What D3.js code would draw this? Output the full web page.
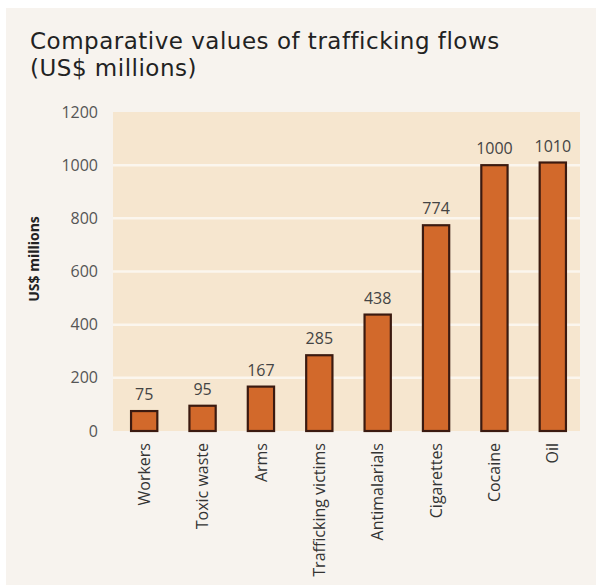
<!DOCTYPE html>
<html><head><meta charset="utf-8">
<script src="https://cdn.jsdelivr.net/npm/d3@7"></script>
<style>body{margin:0;background:#fff;}svg{display:block;}</style>
</head><body>
<script>
const categories = ["Workers","Toxic waste","Arms","Trafficking victims","Antimalarials","Cigarettes","Cocaine","Oil"];
const values = [75,95,167,285,438,774,1000,1010];
const yTicks = [0,200,400,600,800,1000,1200];
const titleLines = ["Comparative values of trafficking flows","(US$ millions)"];
const yTitle = "US$ millions";

(function(){
const W=604,H=585;
const svg=d3.select("body").append("svg").attr("width",W).attr("height",H);
svg.append("rect").attr("x",6).attr("y",8).attr("width",590).attr("height",577).attr("fill","#f7f3ee");

const font="'Open Sans', 'Noto Sans', sans-serif";
svg.selectAll("text.title").data(titleLines).enter().append("text")
  .attr("x",30).attr("y",(d,i)=>49+i*27).attr("font-family","'DejaVu Sans', sans-serif").attr("font-size",23)
  .attr("letter-spacing",0.5).attr("fill","#222").text(d=>d);

const pl=113,pr=582,pt=112,pb=431;
const x=d3.scaleBand().domain(categories).range([pl+2,pr]).paddingInner(0.55).paddingOuter(0.275);
const y=d3.scaleLinear().domain([0,1200]).range([pb,pt]);

svg.append("rect").attr("x",pl).attr("y",pt).attr("width",pr-pl-2).attr("height",pb-pt).attr("fill","#f6e6cf");
svg.selectAll("line.grid").data(yTicks.filter(d=>d>0&&d<1200)).enter().append("line")
  .attr("x1",pl).attr("x2",pr-2).attr("y1",d=>y(d)).attr("y2",d=>y(d))
  .attr("stroke","#fbf6ee").attr("stroke-width",2.5);

const yAxis=svg.append("g").attr("transform",`translate(${pl},0)`)
  .call(d3.axisLeft(y).tickValues(yTicks).tickFormat(d3.format("d")).tickSize(0).tickPadding(15));
yAxis.select(".domain").remove();
yAxis.selectAll("text").attr("font-family",font).attr("font-size",16).attr("fill","#555");

svg.append("text").attr("transform",`translate(39,259) rotate(-90)`).attr("text-anchor","middle")
  .attr("font-family",font).attr("font-size",14).attr("font-weight","bold").attr("fill","#222").text(yTitle);

svg.selectAll("rect.bar").data(values).enter().append("rect")
  .attr("x",(d,i)=>x(categories[i])).attr("width",x.bandwidth())
  .attr("y",d=>y(d)).attr("height",d=>y(0)-y(d))
  .attr("fill","#d2692b").attr("stroke","#3b1a10").attr("stroke-width",2.2);

svg.selectAll("text.val").data(values).enter().append("text")
  .attr("x",(d,i)=>x(categories[i])+x.bandwidth()/2).attr("y",d=>y(d)-11)
  .attr("text-anchor","middle").attr("font-family",font).attr("font-size",16).attr("fill","#444").text(d=>d);

const xAxis=svg.append("g").attr("transform",`translate(0,${pb})`)
  .call(d3.axisBottom(x).tickSize(0).tickPadding(0));
xAxis.select(".domain").remove();
xAxis.selectAll("text").attr("transform","rotate(-90)").attr("text-anchor","end")
  .attr("x",-12).attr("y",0).attr("dy","0.35em")
  .attr("font-family",font).attr("font-size",16).attr("fill","#333");
})();
</script>
</body></html>
